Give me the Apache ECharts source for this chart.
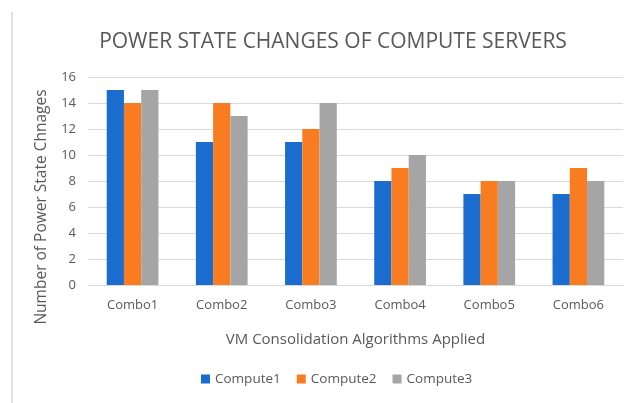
<!DOCTYPE html>
<html>
<head>
<meta charset="utf-8">
<script src="https://cdn.jsdelivr.net/npm/echarts@6/dist/echarts.min.js"></script>
<style>
  html, body { margin: 0; padding: 0; background: #fff; }
  #chart { width: 631px; height: 403px; }
</style>
</head>
<body>
<div id="chart"></div>
<script>
const categories = ['Combo1', 'Combo2', 'Combo3', 'Combo4', 'Combo5', 'Combo6']
const compute1 = [15, 11, 11, 8, 7, 7]
const compute2 = [14, 14, 12, 9, 8, 9]
const compute3 = [15, 13, 14, 10, 8, 8]
const seriesNames = ['Compute1', 'Compute2', 'Compute3']
const colors = ['#1a6dcf', '#f97c20', '#a5a5a5']

const font = 'Open Sans, sans-serif'
const chart = echarts.init(document.getElementById('chart'))

chart.setOption({
  animation: false,
  color: colors,
  textStyle: { fontFamily: font },
  title: {
    text: 'POWER STATE CHANGES OF COMPUTE SERVERS',
    left: 328,
    textAlign: 'center',
    top: 27,
    textStyle: {
      fontFamily: font,
      fontSize: 21,
      fontWeight: 'normal',
      color: '#595959'
    }
  },
  graphic: [
    {
      type: 'line',
      shape: { x1: 12, y1: 12, x2: 12, y2: 403 },
      style: { stroke: '#d9d9d9', lineWidth: 1.5 }
    }
  ],
  legend: {
    bottom: 12,
    left: 196,
    itemWidth: 9,
    itemHeight: 9,
    itemGap: 16,
    icon: 'rect',
    textStyle: { fontFamily: font, fontSize: 13.5, color: '#595959' },
    data: seriesNames
  },
  grid: {
    left: 88,
    right: 8,
    top: 77,
    bottom: 118
  },
  xAxis: {
    type: 'category',
    data: categories,
    name: 'VM Consolidation Algorithms Applied',
    nameLocation: 'middle',
    nameGap: 47,
    nameTextStyle: { fontFamily: font, fontSize: 15, color: '#595959' },
    axisLine: { lineStyle: { color: '#d9d9d9' } },
    axisTick: { show: false },
    axisLabel: { fontFamily: font, fontSize: 13, color: '#595959', margin: 14 }
  },
  yAxis: {
    type: 'value',
    min: 0,
    max: 16,
    interval: 2,
    name: 'Number of Power State Chnages',
    nameLocation: 'middle',
    nameGap: 38,
    nameTextStyle: { fontFamily: font, fontSize: 15.5, color: '#595959', padding: [0, 52, 0, 0] },
    axisLine: { show: false },
    axisTick: { show: false },
    axisLabel: { fontFamily: font, fontSize: 13, color: '#595959', margin: 12 },
    splitLine: { lineStyle: { color: '#d9d9d9' } }
  },
  series: [
    { name: seriesNames[0], type: 'bar', data: compute1, barGap: '0%', barCategoryGap: '42%' },
    { name: seriesNames[1], type: 'bar', data: compute2, barGap: '0%', barCategoryGap: '42%' },
    { name: seriesNames[2], type: 'bar', data: compute3, barGap: '0%', barCategoryGap: '42%' }
  ]
})
</script>
</body>
</html>
